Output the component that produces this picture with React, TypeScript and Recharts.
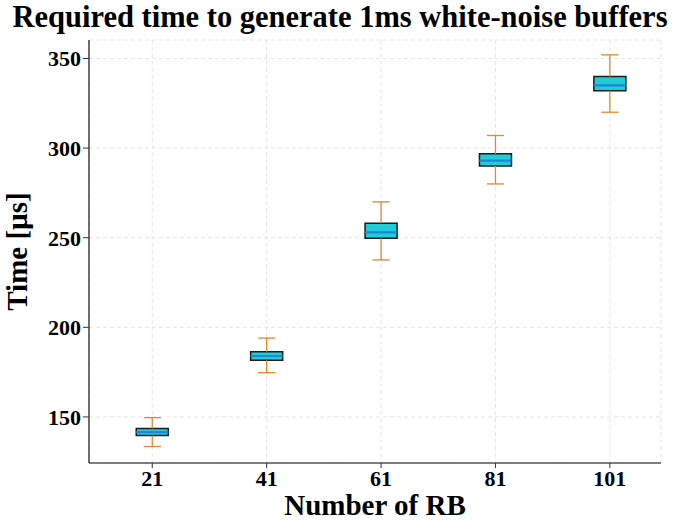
import React from 'react';
import {
  ComposedChart,
  XAxis,
  YAxis,
  CartesianGrid,
  ReferenceArea,
  ReferenceLine,
  Scatter,
  Label,
} from 'recharts';

const categories = ['21', '41', '61', '81', '101'];
const mins = [133.5, 174.7, 237.6, 280.0, 320.0];
const q1s = [139.6, 181.6, 249.7, 290.0, 332.0];
const medians = [141.5, 184.0, 253.0, 293.0, 335.0];
const q3s = [143.5, 186.4, 258.0, 296.8, 340.0];
const maxs = [149.6, 194.0, 270.0, 307.0, 352.0];
const yTicks = [150, 200, 250, 300, 350];

const title = 'Required time to generate 1ms white-noise buffers';
const xLabel = 'Number of RB';
const yLabel = 'Time [\u00b5s]';

const positions = categories.map((_, i) => i + 1);
const data = categories.map((c, i) => ({
  pos: positions[i],
  cat: c,
  min: mins[i],
  q1: q1s[i],
  median: medians[i],
  q3: q3s[i],
  max: maxs[i],
}));

const FONT = '"Liberation Serif", "Times New Roman", serif';
const BOX_HALF = 0.14;
const CAP_HALF = 0.075;
const BOX_FILL = '#1fcdd8';
const BOX_EDGE = '#1c1c1c';
const MEDIAN = '#1f86d6';
const WHISKER = '#e5872e';
const AXIS = '#333';

const tickStyle = { fontFamily: FONT, fontSize: 22, fontWeight: 700, fill: '#000' };

export default function App() {
  return (
    <div style={{ position: 'absolute', left: 0, top: 0, width: 682, height: 521, background: '#fff' }}>
      <div
        style={{
          position: 'absolute',
          left: 0,
          width: 680,
          top: 0,
          textAlign: 'center',
          fontFamily: FONT,
          fontWeight: 700,
          fontSize: 30.5,
          lineHeight: '34px',
          color: '#000',
        }}
      >
        {title}
      </div>
      <ComposedChart
        width={682}
        height={521}
        data={data}
        margin={{ top: 40, right: 21, bottom: 0, left: 0 }}
      >
        <CartesianGrid stroke="#dedede" strokeDasharray="4 3" strokeWidth={0.8} />
        <XAxis
          dataKey="pos"
          type="number"
          domain={[0.447, 5.447]}
          ticks={positions}
          tickFormatter={(v: number) => categories[v - 1]}
          tick={tickStyle}
          tickLine={{ stroke: AXIS }}
          tickSize={5}
          axisLine={{ stroke: '#555', strokeWidth: 1.5 }}
          height={58}
          interval={0}
          allowDataOverflow
        >
          <Label
            content={(props: any) => {
              const vb = props.viewBox;
              return (
                <text
                  x={vb.x + vb.width / 2}
                  y={vb.y + 52}
                  textAnchor="middle"
                  fontFamily={FONT}
                  fontWeight={700}
                  fontSize={29}
                  fill="#000"
                >
                  {xLabel}
                </text>
              );
            }}
          />
        </XAxis>
        <XAxis
          xAxisId="top"
          orientation="top"
          type="number"
          dataKey="pos"
          domain={[0.447, 5.447]}
          tick={false}
          tickLine={false}
          axisLine={{ stroke: AXIS, strokeWidth: 1.2 }}
          height={0}
          allowDataOverflow
        />
        <YAxis
          type="number"
          domain={[124.3, 360.3]}
          ticks={yTicks}
          tick={tickStyle}
          tickLine={{ stroke: AXIS }}
          tickSize={6}
          axisLine={{ stroke: '#111', strokeWidth: 1.2 }}
          width={89}
          allowDataOverflow
        >
          <Label
            content={(props: any) => {
              const vb = props.viewBox;
              const cx = vb.x + 27;
              const cy = vb.y + vb.height / 2;
              return (
                <text
                  x={cx}
                  y={cy}
                  transform={`rotate(-90, ${cx}, ${cy})`}
                  textAnchor="middle"
                  fontFamily={FONT}
                  fontWeight={700}
                  fontSize={29}
                  fill="#000"
                >
                  {yLabel}
                </text>
              );
            }}
          />
        </YAxis>
        <YAxis
          yAxisId="right"
          orientation="right"
          type="number"
          domain={[124.3, 360.3]}
          tick={false}
          tickLine={false}
          axisLine={{ stroke: '#111', strokeWidth: 1.2 }}
          width={0}
          allowDataOverflow
        />
        <Scatter dataKey="median" isAnimationActive={false} shape={() => <g />} legendType="none" />
        {data.map((d) => (
          <ReferenceLine
            key={`wu${d.pos}`}
            segment={[{ x: d.pos, y: d.q3 }, { x: d.pos, y: d.max }]}
            stroke={WHISKER}
            strokeWidth={1.3}
            ifOverflow="visible"
          />
        ))}
        {data.map((d) => (
          <ReferenceLine
            key={`wl${d.pos}`}
            segment={[{ x: d.pos, y: d.min }, { x: d.pos, y: d.q1 }]}
            stroke={WHISKER}
            strokeWidth={1.3}
            ifOverflow="visible"
          />
        ))}
        {data.map((d) => (
          <ReferenceLine
            key={`cu${d.pos}`}
            segment={[{ x: d.pos - CAP_HALF, y: d.max }, { x: d.pos + CAP_HALF, y: d.max }]}
            stroke={WHISKER}
            strokeWidth={1.3}
            ifOverflow="visible"
          />
        ))}
        {data.map((d) => (
          <ReferenceLine
            key={`cl${d.pos}`}
            segment={[{ x: d.pos - CAP_HALF, y: d.min }, { x: d.pos + CAP_HALF, y: d.min }]}
            stroke={WHISKER}
            strokeWidth={1.3}
            ifOverflow="visible"
          />
        ))}
        {data.map((d) => (
          <ReferenceArea
            key={`b${d.pos}`}
            x1={d.pos - BOX_HALF}
            x2={d.pos + BOX_HALF}
            y1={d.q1}
            y2={d.q3}
            fill={BOX_FILL}
            fillOpacity={1}
            stroke={BOX_EDGE}
            strokeWidth={1.5}
            ifOverflow="visible"
          />
        ))}
        {data.map((d) => (
          <ReferenceLine
            key={`m${d.pos}`}
            segment={[{ x: d.pos - BOX_HALF, y: d.median }, { x: d.pos + BOX_HALF, y: d.median }]}
            stroke={MEDIAN}
            strokeWidth={2.2}
            ifOverflow="visible"
          />
        ))}
      </ComposedChart>
    </div>
  );
}
